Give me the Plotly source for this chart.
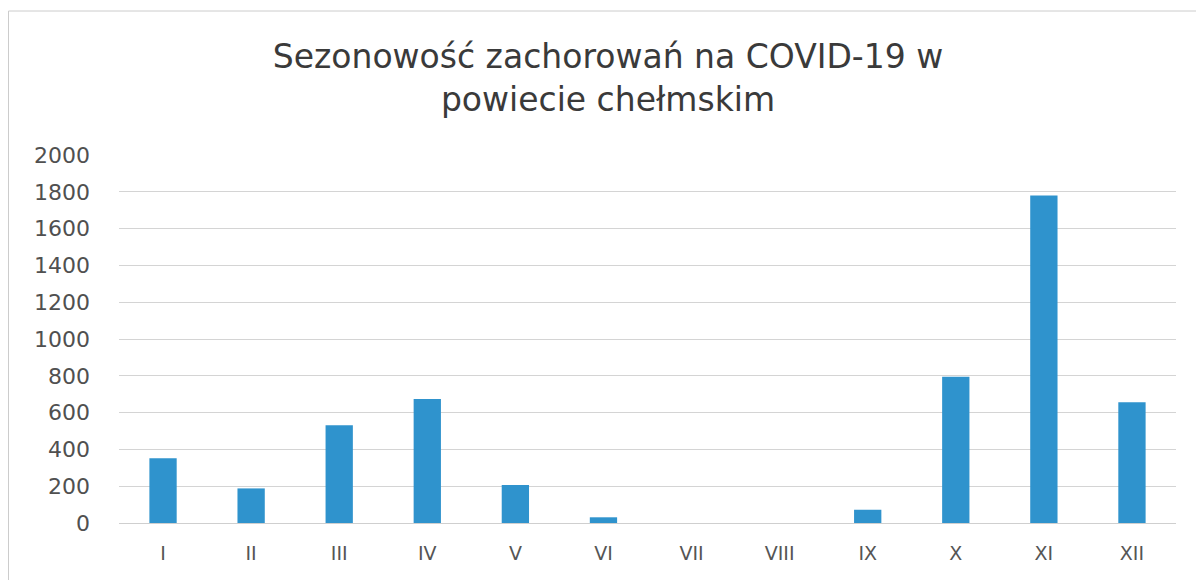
import plotly.graph_objects as go

months = ["I", "II", "III", "IV", "V", "VI", "VII", "VIII", "IX", "X", "XI", "XII"]
cases = [352, 188, 531, 674, 206, 31, 0, 0, 72, 795, 1780, 656]
y_ticks = [0, 200, 400, 600, 800, 1000, 1200, 1400, 1600, 1800, 2000]

# page has an 8px body margin, so the figure is slightly smaller than the window
W, H = 1196, 572
L, R, T, B = 111, 28, 147, 57
pw = W - L - R
ph = H - T - B


def px_x(x):
    return (x - L) / pw


def px_y(y):
    return (H - B - y) / ph


fig = go.Figure(go.Bar(
    x=months, y=cases,
    marker=dict(color="#2f93cd", line=dict(width=0)),
    hoverinfo="x+y",
))

font_family = "'DejaVu Sans', 'Open Sans', sans-serif"

fig.update_layout(
    width=W, height=H,
    margin=dict(l=L, r=R, t=T, b=B),
    paper_bgcolor="white", plot_bgcolor="white",
    bargap=0.69,
    showlegend=False,
    title=dict(
        text="Sezonowość zachorowań na COVID-19 w<br>powiecie chełmskim",
        font=dict(family=font_family, size=33, color="#3a3a3a"),
        xref="container", x=600 / W, xanchor="center",
        yref="container", y=1 - 60 / H, yanchor="middle",
    ),
    font=dict(family=font_family, color="#505050"),
)

fig.update_xaxes(
    showgrid=False, showline=False, ticks="",
    tickfont=dict(size=19, color="#555555"),
    ticklabelstandoff=17,
)
fig.update_yaxes(
    range=[0, 2000], tickvals=y_ticks,
    showgrid=True, gridcolor="#d4d4d4", gridwidth=1,
    zeroline=True, zerolinecolor="#cfcfcf", zerolinewidth=1,
    showline=False, ticks="",
    tickfont=dict(size=22, color="#505050"),
    ticklabelstandoff=28,
)

# chart-area border (visible on the top and left in the scan)
fig.add_shape(type="line", xref="paper", yref="paper",
              x0=px_x(0.5), x1=px_x(W), y0=px_y(3), y1=px_y(3),
              line=dict(color="#cccccc", width=1), layer="below")
fig.add_shape(type="line", xref="paper", yref="paper",
              x0=px_x(0.5), x1=px_x(0.5), y0=px_y(3), y1=px_y(H),
              line=dict(color="#cccccc", width=1), layer="below")

fig.write_html("out.html")
